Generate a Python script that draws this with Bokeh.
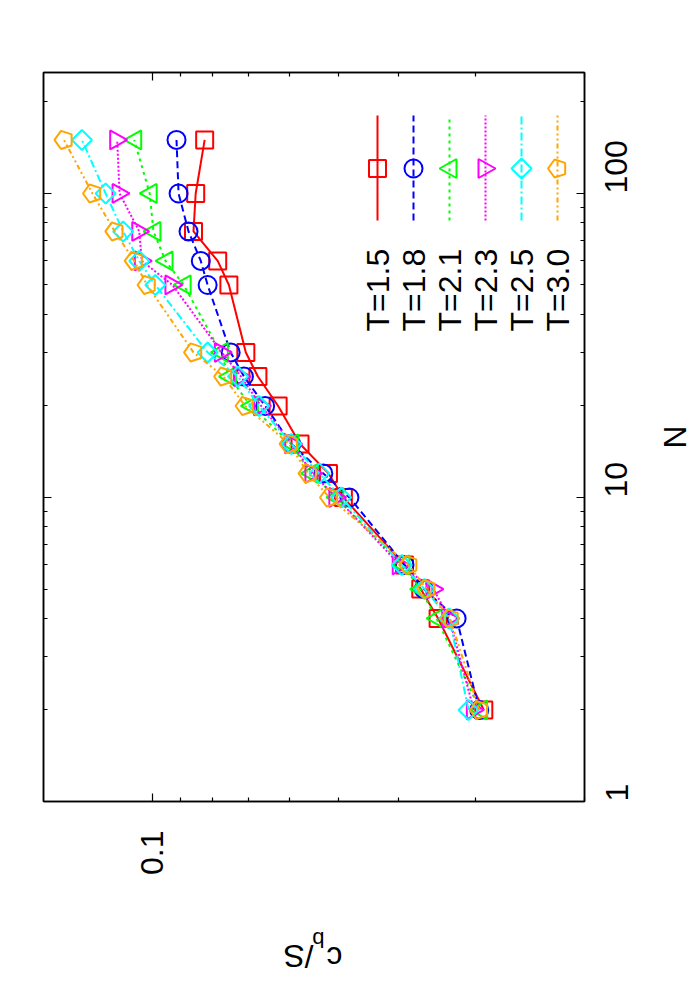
import math
from bokeh.plotting import figure
from bokeh.models import Range1d, FixedTicker, BasicTickFormatter, LogAxis, Label
from bokeh.embed import file_html
from bokeh.resources import INLINE

# ---------------- data ----------------
N = [2, 4, 5, 6, 10, 12, 15, 20, 25, 30, 50, 60, 75, 100, 150]
labels = ["T=1.5", "T=1.8", "T=2.1", "T=2.3", "T=2.5", "T=3.0"]
cb_T15 = [0.0291, 0.0345, 0.0368, 0.0391, 0.0491, 0.0519, 0.0577, 0.0626, 0.0675, 0.0706, 0.0752, 0.0784, 0.0858, 0.0851, 0.0823]
cb_T18 = [0.0296, 0.0322, 0.0364, 0.0391, 0.0480, 0.0529, 0.0596, 0.0657, 0.0711, 0.0747, 0.0814, 0.0835, 0.0874, 0.0907, 0.0914]
cb_T21 = [0.0295, 0.0347, 0.0369, 0.0394, 0.0504, 0.0554, 0.0596, 0.0693, 0.0752, 0.0775, 0.0890, 0.0952, 0.0996, 0.1010, 0.1070]
cb_T23 = [0.0302, 0.0331, 0.0351, 0.0398, 0.0504, 0.0551, 0.0594, 0.0667, 0.0719, 0.0772, 0.0928, 0.1040, 0.1050, 0.1130, 0.1140]
cb_T25 = [0.0308, 0.0331, 0.0363, 0.0395, 0.0495, 0.0537, 0.0596, 0.0672, 0.0727, 0.0814, 0.0989, 0.1050, 0.1115, 0.1190, 0.1300]
cb_T30 = [0.0296, 0.0330, 0.0360, 0.0385, 0.0517, 0.0560, 0.0601, 0.0708, 0.0767, 0.0858, 0.1020, 0.1070, 0.1150, 0.1250, 0.1390]
series = [cb_T15, cb_T18, cb_T21, cb_T23, cb_T25, cb_T30]

x_ticks = [0.1]
x_minor = [0.02, 0.03, 0.04, 0.05, 0.06, 0.07, 0.08, 0.09]
y_ticks = [1, 10, 100]
y_minor = [2, 3, 4, 5, 6, 7, 8, 9, 20, 30, 40, 50, 60, 70, 80, 90, 200]

# ---------------- style / layout ----------------
colors = ["#ff0000", "#0000ff", "#00ff00", "#ff00ff", "#00ffff", "#ffa500"]
dashes = ["solid", "7 4", "3 4", "2 2", "8 3 2 3", "5 3 2 3 2 3"]
FONT = "Liberation Sans"
FS = "32px"

X_LEFT, X_RIGHT = 0.15, 0.02
Y_LOW, Y_HIGH = 1, 250
FW, FH = 541, 729
F_LEFT, F_BOTTOM = 43, 801  # frame position on page

KX = FW / math.log10(X_LEFT / X_RIGHT)
KY = FH / math.log10(Y_HIGH / Y_LOW)


def px2x(px):
    return X_LEFT * 10 ** (-(px - F_LEFT) / KX)


def px2y(py):
    return Y_LOW * 10 ** ((F_BOTTOM - py) / KY)


def shapes(xv, yv, offs):
    xs, ys = [], []
    for v, n in zip(xv, yv):
        xs.append([v * 10 ** (-dx / KX) for dx, dy in offs])
        ys.append([n * 10 ** (-dy / KY) for dx, dy in offs])
    return xs, ys


SQUARE = [(-8.5, -8.5), (8.5, -8.5), (8.5, 8.5), (-8.5, 8.5)]
TRI_L = [(-10, 0), (7, -9.5), (7, 9.5)]
TRI_R = [(10, 0), (-7, -9.5), (-7, 9.5)]
DIAM = [(-10, 0), (0, -10), (10, 0), (0, 10)]
PENT = [(9.5 * math.cos(math.pi + k * 2 * math.pi / 5), 9.5 * math.sin(math.pi + k * 2 * math.pi / 5)) for k in range(5)]
marker_shapes = [SQUARE, None, TRI_L, TRI_R, DIAM, PENT]

p = figure(frame_width=FW, frame_height=FH,
           x_axis_type="log", y_axis_type="log",
           x_range=Range1d(X_LEFT, X_RIGHT), y_range=Range1d(Y_LOW, Y_HIGH),
           x_axis_location="below", y_axis_location="right",
           output_backend="svg", toolbar_location=None,
           min_border_left=43, min_border_top=72, min_border_right=120, min_border_bottom=190)
p.grid.visible = False
p.outline_line_color = "black"
p.outline_line_width = 1.5
p.background_fill_color = "white"
p.border_fill_color = "white"

xt = FixedTicker(ticks=x_ticks, minor_ticks=x_minor)
yt = FixedTicker(ticks=y_ticks, minor_ticks=y_minor)


def style_axis(ax, show_labels, orient, standoff):
    ax.major_tick_in = 8
    ax.major_tick_out = 0
    ax.minor_tick_in = 4
    ax.minor_tick_out = 0
    ax.major_tick_line_color = "black"
    ax.minor_tick_line_color = "black"
    ax.major_tick_line_width = 1.2
    ax.minor_tick_line_width = 1.2
    ax.axis_line_color = "black"
    ax.axis_line_width = 1.5
    ax.formatter = BasicTickFormatter()
    ax.major_label_orientation = orient
    ax.major_label_standoff = standoff
    if show_labels:
        ax.major_label_text_font = FONT
        ax.major_label_text_font_size = FS
        ax.major_label_text_color = "black"
    else:
        ax.major_label_text_font_size = "0px"
        ax.major_label_text_alpha = 0


p.xaxis.ticker = xt
p.yaxis.ticker = yt
style_axis(p.xaxis[0], True, math.pi / 2, 29)
style_axis(p.yaxis[0], True, math.pi / 2, 32)
p.yaxis.axis_label = "N"
p.yaxis.axis_label_text_font = FONT
p.yaxis.axis_label_text_font_size = FS
p.yaxis.axis_label_text_font_style = "normal"
p.yaxis.axis_label_text_color = "black"
p.yaxis.axis_label_standoff = 15

lax = LogAxis(ticker=yt)
style_axis(lax, False, "horizontal", 0)
p.add_layout(lax, "left")
tax = LogAxis(ticker=xt)
style_axis(tax, False, "horizontal", 0)
p.add_layout(tax, "above")

# ---------------- data series ----------------
for i, (vals, col, dash) in enumerate(zip(series, colors, dashes)):
    p.line(vals, N, line_color=col, line_width=2, line_dash=dash)
    if marker_shapes[i] is None:
        p.scatter(vals, N, marker="circle", size=18, fill_color=None,
                  line_color=col, line_width=2)
    else:
        xs, ys = shapes(vals, N, marker_shapes[i])
        p.patches(xs, ys, fill_color=None, line_color=col, line_width=2)

# ---------------- legend (rotated, drawn by hand) ----------------
LEG_X = [377, 413, 449, 485, 521, 557]
for i, (lab, col, dash) in enumerate(zip(labels, colors, dashes)):
    lx = px2x(LEG_X[i])
    p.line([lx, lx], [px2y(220), px2y(115)], line_color=col, line_width=2, line_dash=dash)
    if marker_shapes[i] is None:
        p.scatter([lx], [px2y(168)], marker="circle", size=18, fill_color=None,
                  line_color=col, line_width=2)
    else:
        xs, ys = shapes([lx], [px2y(168)], marker_shapes[i])
        p.patches(xs, ys, fill_color=None, line_color=col, line_width=2)
    p.add_layout(Label(x=lx, y=px2y(331), text=lab, angle=math.pi / 2,
                       text_align="left", text_baseline="middle",
                       text_font=FONT, text_font_size=FS, text_color="black"))


# ---------------- c_b/S title (upside down), in the side panel so it is not clipped ----------------
def side_label(px, py, text, angle, size=FS):
    p.add_layout(Label(x=px2x(px), y=px2y(py), text=text, angle=angle,
                       text_align="center", text_baseline="middle",
                       text_font=FONT, text_font_size=size, text_color="black"), "below")


side_label(334, 957, "c", math.pi)
side_label(318, 939, "b", math.pi, "22px")
side_label(298, 955, "/S", math.pi)

open("out.html", "w").write(file_html(p, INLINE))
